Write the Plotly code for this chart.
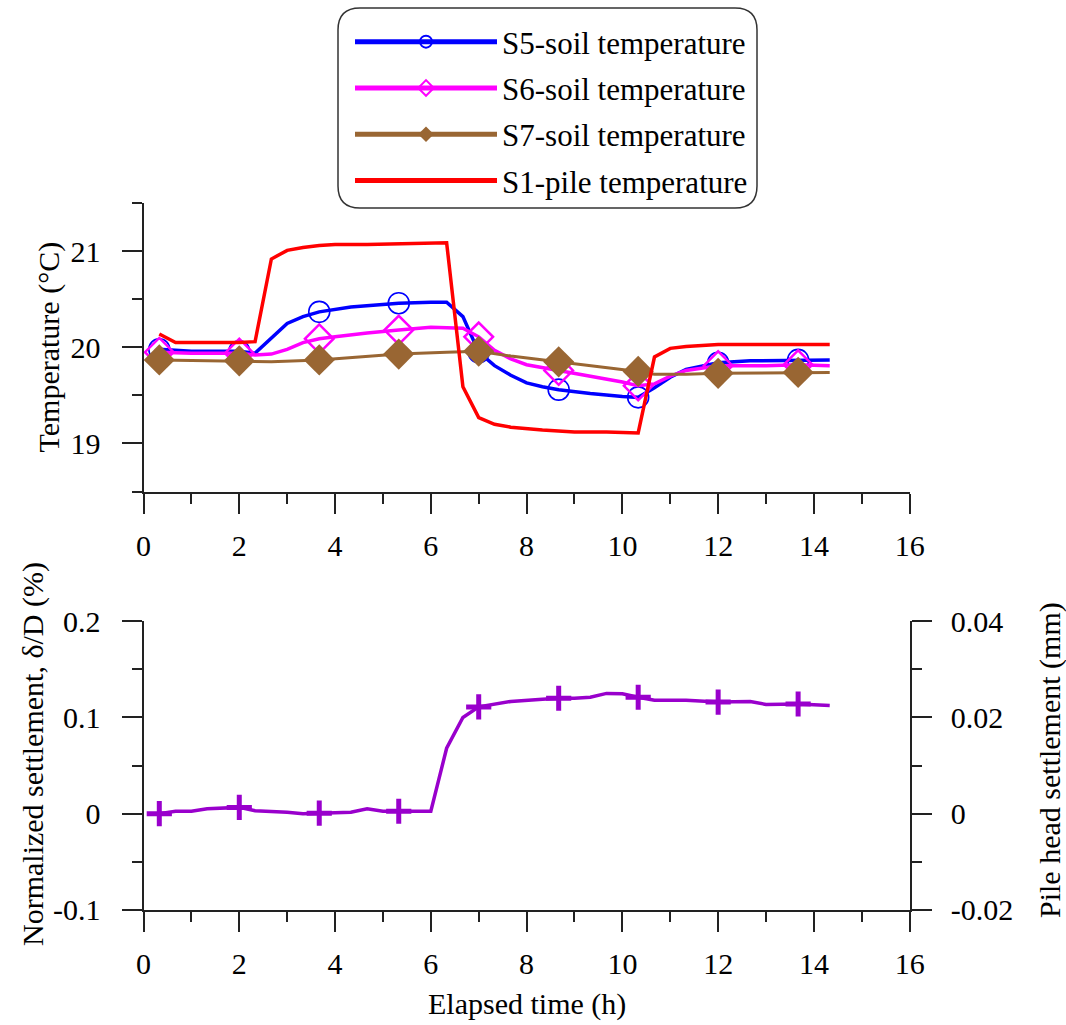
import plotly.graph_objects as go

# ---------------- data ----------------
marker_t = [0.33, 2.0, 3.67, 5.33, 7.0, 8.67, 10.33, 12.0, 13.67]

t_s5 = [0.33, 1.0, 1.67, 2.0, 2.33, 2.67, 3.0, 3.33, 3.67, 4.33, 5.0, 5.33, 6.0, 6.33,
        6.67, 6.83, 7.0, 7.33, 7.67, 8.0, 8.33, 8.67, 9.33, 10.0, 10.33, 10.67, 11.0,
        11.33, 12.0, 12.67, 13.67, 14.33]
T_s5 = [19.98, 19.96, 19.96, 19.96, 19.94, 20.10, 20.25, 20.32, 20.37, 20.42, 20.45, 20.46,
        20.47, 20.47, 20.32, 20.15, 19.95, 19.81, 19.71, 19.63, 19.59, 19.56, 19.52, 19.49,
        19.48, 19.58, 19.69, 19.77, 19.84, 19.86, 19.87, 19.87]

t_s6 = [0.33, 1.0, 2.0, 2.33, 2.67, 3.0, 3.33, 3.67, 4.0, 4.67, 5.33, 6.0, 6.67, 7.0, 7.33,
        7.67, 8.0, 8.67, 9.33, 10.0, 10.33, 10.67, 11.0, 11.33, 12.0, 13.0, 13.67, 14.33]
T_s6 = [19.95, 19.94, 19.94, 19.92, 19.93, 19.98, 20.05, 20.09, 20.11, 20.15, 20.18, 20.21,
        20.20, 20.11, 19.97, 19.88, 19.82, 19.76, 19.70, 19.64, 19.60, 19.62, 19.70, 19.76,
        19.81, 19.81, 19.82, 19.81]

t_s7 = [0.33, 2.0, 2.67, 3.67, 4.67, 5.33, 6.33, 7.0, 7.67, 8.67, 9.67, 10.33, 10.67, 11.33,
        12.0, 13.67, 14.33]
T_s7 = [19.87, 19.86, 19.85, 19.87, 19.91, 19.93, 19.95, 19.96, 19.91, 19.85, 19.79, 19.75,
        19.72, 19.72, 19.73, 19.74, 19.74]

t_s1 = [0.33, 0.67, 1.0, 1.67, 2.0, 2.33, 2.67, 3.0, 3.33, 3.67, 4.0, 4.67, 5.33, 6.0, 6.33,
        6.67, 7.0, 7.33, 7.67, 8.33, 9.0, 9.67, 10.33, 10.67, 11.0, 11.33, 12.0, 13.0, 14.33]
T_s1 = [20.14, 20.05, 20.05, 20.05, 20.05, 20.06, 20.92, 21.01, 21.04, 21.06, 21.07, 21.07,
        21.08, 21.09, 21.09, 19.59, 19.27, 19.20, 19.17, 19.14, 19.12, 19.12, 19.11, 19.90,
        19.99, 20.01, 20.03, 20.03, 20.03]

t_set = [0.33, 0.67, 1.0, 1.33, 2.0, 2.33, 3.0, 3.33, 3.67, 4.33, 4.67, 5.0, 5.33, 6.0, 6.33,
         6.67, 7.0, 7.67, 8.33, 8.67, 9.0, 9.33, 9.67, 10.0, 10.33, 10.67, 11.33, 12.0, 12.67,
         13.0, 13.67, 14.33]
d_set = [0.000, 0.0025, 0.0025, 0.005, 0.0065, 0.003, 0.0015, 0.0000, 0.0005, 0.0015, 0.0050,
         0.0025, 0.0025, 0.0025, 0.068, 0.100, 0.111, 0.1167, 0.119, 0.120, 0.120, 0.121,
         0.125, 0.1247, 0.121, 0.118, 0.118, 0.116, 0.1167, 0.1135, 0.114, 0.1125]

series_names = ["S5-soil temperature", "S6-soil temperature", "S7-soil temperature",
                "S1-pile temperature"]

x_ticks = [0, 2, 4, 6, 8, 10, 12, 14, 16]
temp_ticks = [19, 20, 21]
norm_ticks = [-0.1, 0, 0.1, 0.2]
norm_labels = ["-0.1", "0", "0.1", "0.2"]
mm_ticks = [-0.02, 0, 0.02, 0.04]
mm_labels = ["-0.02", "0", "0.02", "0.04"]
mm_per_percent = 0.2  # pile head settlement (mm) per 1 % of delta/D

# ---------------- style ----------------
W, H = 1066, 1025
FONT = "Liberation Serif, Times New Roman, serif"
AX = "#222222"


def px_x(p):
    return p / W


def px_y(p):
    return 1 - p / H


def sizes(ts, s):
    mk = set(round(v, 2) for v in marker_t)
    return [s if round(t, 2) in mk else 0 for t in ts]


fig = go.Figure()

fig.add_trace(go.Scatter(
    x=t_s5, y=T_s5, name=series_names[0], mode="lines+markers", legendgroup="g1",
    line=dict(color="#0000FF", width=3.5),
    marker=dict(symbol="circle-open", size=sizes(t_s5, 21), color="#0000FF", opacity=1,
                line=dict(width=1.6, color="#0000FF")),
    xaxis="x", yaxis="y"))
fig.add_trace(go.Scatter(
    x=t_s6, y=T_s6, name=series_names[1], mode="lines+markers", legendgroup="g2",
    line=dict(color="#FF00FF", width=3.5),
    marker=dict(symbol="diamond-open", size=sizes(t_s6, 22), color="#FF00FF", opacity=1,
                line=dict(width=2.5, color="#FF00FF")),
    xaxis="x", yaxis="y"))
fig.add_trace(go.Scatter(
    x=t_s7, y=T_s7, name=series_names[2], mode="lines+markers", legendgroup="g3",
    line=dict(color="#996633", width=3),
    marker=dict(symbol="diamond", size=sizes(t_s7, 24), color="#996633", opacity=1,
                line=dict(width=0)),
    xaxis="x", yaxis="y"))
fig.add_trace(go.Scatter(
    x=t_s1, y=T_s1, name=series_names[3], mode="lines", legendgroup="g4",
    line=dict(color="#FF0000", width=3.5),
    xaxis="x", yaxis="y"))

fig.add_trace(go.Scatter(
    x=t_set, y=d_set, mode="lines+markers", showlegend=False,
    line=dict(color="#9900CC", width=3.5),
    marker=dict(symbol="cross-thin", size=sizes(t_set, 18), color="#9900CC", opacity=1,
                line=dict(width=5, color="#9900CC")),
    xaxis="x2", yaxis="y2"))
# same settlement expressed in mm on the right-hand axis (invisible, keeps axis alive)
fig.add_trace(go.Scatter(
    x=t_set, y=[v * mm_per_percent for v in d_set], mode="lines", showlegend=False,
    line=dict(color="rgba(0,0,0,0)", width=0), hoverinfo="skip",
    xaxis="x2", yaxis="y3"))

tickfont = dict(family=FONT, size=30, color="black")
xdom = [px_x(143.5), px_x(909.7)]

common_x = dict(domain=xdom, range=[0, 16], tickmode="array", tickvals=x_ticks,
                ticks="outside", ticklen=20, tickwidth=2, tickcolor=AX,
                minor=dict(tickmode="linear", tick0=0, dtick=1, ticks="outside",
                           ticklen=10, tickwidth=2, tickcolor=AX),
                showline=True, linewidth=2, linecolor=AX, showgrid=False,
                zeroline=False, tickfont=tickfont, ticklabelstandoff=6,
                automargin=False)

fig.update_layout(
    width=W, height=H,
    margin=dict(l=0, r=0, t=0, b=0, autoexpand=False),
    paper_bgcolor="white", plot_bgcolor="white",
    font=dict(family=FONT, size=30, color="black"),
    xaxis=dict(anchor="y", **common_x),
    xaxis2=dict(anchor="y2", **common_x),
    yaxis=dict(domain=[px_y(491.5), px_y(203.3)], range=[18.5, 21.5], anchor="x",
               tickmode="array", tickvals=temp_ticks,
               ticks="outside", ticklen=20, tickwidth=2, tickcolor=AX,
               minor=dict(tickmode="linear", tick0=0, dtick=0.5, ticks="outside",
                          ticklen=10, tickwidth=2, tickcolor=AX),
               showline=True, linewidth=2, linecolor=AX, showgrid=False,
               zeroline=False, tickfont=tickfont, ticklabelstandoff=15,
               automargin=False),
    yaxis2=dict(domain=[px_y(909.8), px_y(621.3)], range=[-0.1, 0.2], anchor="x2",
                tickmode="array", tickvals=norm_ticks, ticktext=norm_labels,
                ticks="outside", ticklen=20, tickwidth=2, tickcolor=AX,
                minor=dict(tickmode="linear", tick0=0, dtick=0.05, ticks="outside",
                           ticklen=10, tickwidth=2, tickcolor=AX),
                showline=True, linewidth=2, linecolor=AX, showgrid=False,
                zeroline=False, tickfont=tickfont, ticklabelstandoff=15,
                automargin=False),
    yaxis3=dict(overlaying="y2", side="right", anchor="x2", range=[-0.02, 0.04],
                tickmode="array", tickvals=mm_ticks, ticktext=mm_labels,
                ticks="outside", ticklen=20, tickwidth=2, tickcolor=AX,
                minor=dict(tickmode="linear", tick0=0, dtick=0.01, ticks="outside",
                           ticklen=10, tickwidth=2, tickcolor=AX),
                showline=True, linewidth=2, linecolor=AX, showgrid=False,
                zeroline=False, tickfont=tickfont, ticklabelstandoff=13,
                automargin=False),
    legend=dict(x=px_x(350), y=px_y(15), xanchor="left", yanchor="top",
                bgcolor="rgba(0,0,0,0)", borderwidth=0,
                font=dict(family=FONT, size=31, color="black"),
                itemwidth=142, itemsizing="constant", tracegroupgap=3),
    showlegend=True,
)

# rounded legend frame
x0, x1 = px_x(338), px_x(757)
y0, y1 = px_y(208), px_y(8)
rx, ry = 22 / W, 22 / H
path = (f"M{x0+rx},{y1} L{x1-rx},{y1} Q{x1},{y1} {x1},{y1-ry} "
        f"L{x1},{y0+ry} Q{x1},{y0} {x1-rx},{y0} L{x0+rx},{y0} "
        f"Q{x0},{y0} {x0},{y0+ry} L{x0},{y1-ry} Q{x0},{y1} {x0+rx},{y1} Z")
fig.add_shape(type="path", path=path, xref="paper", yref="paper",
              line=dict(color="#333333", width=1.5), fillcolor="rgba(0,0,0,0)")

# axis titles
title_font = dict(family=FONT, size=30, color="black")
fig.add_annotation(text="Temperature (°C)", x=px_x(48), y=px_y(347.5), xref="paper",
                   yref="paper", textangle=-90, showarrow=False, font=title_font,
                   xanchor="center", yanchor="middle")
fig.add_annotation(text="Normalized settlement, δ/D (%)", x=px_x(33), y=px_y(754),
                   xref="paper", yref="paper", textangle=-90, showarrow=False,
                   font=title_font, xanchor="center", yanchor="middle")
fig.add_annotation(text="Pile head settlement (mm)", x=px_x(1050), y=px_y(760),
                   xref="paper", yref="paper", textangle=-90, showarrow=False,
                   font=title_font, xanchor="center", yanchor="middle")
fig.add_annotation(text="Elapsed time (h)", x=px_x(527), y=px_y(1004), xref="paper",
                   yref="paper", showarrow=False, font=title_font,
                   xanchor="center", yanchor="middle")

fig.write_html("out.html", config={"displayModeBar": False},
               post_script="document.body.style.margin='0';")
